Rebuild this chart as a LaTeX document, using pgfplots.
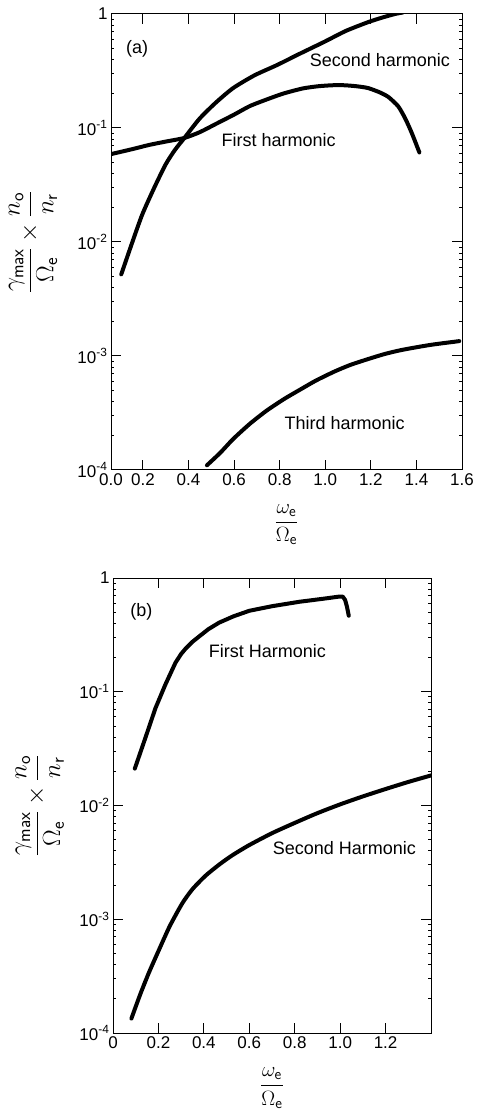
\documentclass[border=0pt]{standalone}
\usepackage{fontspec}
\setmainfont{Liberation Sans}
\usepackage{pgfplots}
\pgfplotsset{compat=1.18}
\pgfplotsset{
  every axis/.append style={
  axis line style={line width=1pt},
  major tick length=10pt, tick align=inside,
  tick label style={font=\fontsize{17}{20}\selectfont},
  cycle list={black,no markers,line width=4pt,line join=round,line cap=round\\},
  },
  every axis y label/.style={rotate=90, anchor=center},
  every axis x label/.style={anchor=center},
}
\begin{document}
\begin{tikzpicture}
\path[use as bounding box] (0pt,0pt) rectangle (478pt,1110pt);
% ---------- panel (a)
\begin{axis}[ymode=log, scale only axis, ymin=1e-4, ymax=1,
  ytick={1e-4,1e-3,1e-2,1e-1,1},
  yticklabels={10\textsuperscript{-4},10\textsuperscript{-3},10\textsuperscript{-2},10\textsuperscript{-1},1},
  minor ytick={},
  tick style={line width=1pt, black},
  at={(111pt,640pt)}, anchor=south west, width=351pt, height=456pt,
  xmin=0.06, xmax=1.6,
  xtick={0.06,0.2,0.4,0.6,0.8,1.0,1.2,1.4,1.6},
  xticklabels={0.0,0.2,0.4,0.6,0.8,1.0,1.2,1.4,1.6},
  xlabel={\fontsize{22}{26}\selectfont$\displaystyle\frac{\omega_{\mathsf{e}}}{\Omega_{\mathsf{e}}}$},
  x label style={at={(axis description cs:0.5,-0.12)}},
  ylabel={\fontsize{26}{30}\selectfont$\displaystyle\frac{\gamma_{\mathsf{max}}}{\Omega_{\mathsf{e}}}\times\frac{n_{\mathsf{o}}}{n_{\mathsf{r}}}$},
  y label style={at={(axis description cs:-0.222,0.5)}},
]
% Second harmonic
\addplot+[smooth, tension=0.4] coordinates {(0.105,0.0052) (0.15,0.0095) (0.197,0.0174) (0.25,0.030) (0.30,0.048) (0.34,0.064) (0.382,0.0818) (0.449,0.121) (0.52,0.167) (0.596,0.224) (0.69,0.29) (0.789,0.357) (0.89,0.45) (0.996,0.57) (1.09,0.71) (1.188,0.848) (1.25,0.93) (1.306,1.0) (1.34,1.03)};
% First harmonic
\addplot+[smooth, tension=0.4] coordinates {(0.06,0.059) (0.15,0.065) (0.227,0.071) (0.30,0.076) (0.382,0.0818) (0.45,0.092) (0.522,0.109) (0.60,0.131) (0.67,0.156) (0.75,0.180) (0.818,0.201) (0.90,0.222) (0.966,0.232) (1.03,0.237) (1.085,0.237) (1.14,0.232) (1.188,0.224) (1.24,0.205) (1.277,0.187) (1.32,0.155) (1.351,0.121) (1.38,0.090) (1.413,0.061)};
% Third harmonic
\addplot+[smooth, tension=0.4] coordinates {(0.481,1.1e-4) (0.54,1.42e-4) (0.596,1.87e-4) (0.67,2.55e-4) (0.744,3.33e-4) (0.82,4.2e-4) (0.892,5.1e-4) (0.96,6.1e-4) (1.04,7.3e-4) (1.11,8.35e-4) (1.188,9.4e-4) (1.26,1.04e-3) (1.336,1.13e-3) (1.46,1.25e-3) (1.588,1.35e-3)};
\node[font=\fontsize{18}{21}\selectfont] at (axis cs:0.175,0.494) {(a)};
\node[font=\fontsize{18}{21}\selectfont] at (axis cs:1.24,0.398) {Second harmonic};
\node[font=\fontsize{18}{21}\selectfont] at (axis cs:0.796,0.0789) {First harmonic};
\node[font=\fontsize{18}{21}\selectfont] at (axis cs:1.085,2.58e-4) {Third harmonic};
\end{axis}
% ---------- panel (b)
\begin{axis}[ymode=log, scale only axis, ymin=1e-4, ymax=1,
  ytick={1e-4,1e-3,1e-2,1e-1,1},
  yticklabels={10\textsuperscript{-4},10\textsuperscript{-3},10\textsuperscript{-2},10\textsuperscript{-1},1},
  minor ytick={},
  tick style={line width=1pt, black},
  at={(113pt,77pt)}, anchor=south west, width=318pt, height=455pt,
  xmin=0, xmax=1.4,
  xtick={0,0.2,0.4,0.6,0.8,1.0,1.2},
  xticklabels={0,0.2,0.4,0.6,0.8,1.0,1.2},
  xlabel={\fontsize{22}{26}\selectfont$\displaystyle\frac{\omega_{\mathsf{e}}}{\Omega_{\mathsf{e}}}$},
  x label style={at={(axis description cs:0.5,-0.121)}},
  ylabel={\fontsize{26}{30}\selectfont$\displaystyle\frac{\gamma_{\mathsf{max}}}{\Omega_{\mathsf{e}}}\times\frac{n_{\mathsf{o}}}{n_{\mathsf{r}}}$},
  y label style={at={(axis description cs:-0.23,0.5)}},
]
% First Harmonic
\addplot coordinates {(0.096,0.0211) (0.14,0.038) (0.187,0.0718) (0.23,0.115) (0.275,0.18) (0.30,0.215) (0.32,0.24) (0.35,0.275) (0.378,0.305) (0.42,0.355) (0.467,0.405) (0.53,0.46) (0.6,0.515) (0.7,0.565) (0.82,0.618) (0.92,0.655) (0.997,0.687) (1.012,0.685) (1.022,0.640) (1.03,0.56) (1.038,0.466)};
% Second Harmonic
\addplot+[smooth, tension=0.4] coordinates {(0.081,1.34e-4) (0.12,2.19e-4) (0.158,3.39e-4) (0.2,5.25e-4) (0.25,8.71e-4) (0.305,1.38e-3) (0.35,1.84e-3) (0.408,2.42e-3) (0.47,3.05e-3) (0.526,3.66e-3) (0.6,4.49e-3) (0.7,5.71e-3) (0.8,7.03e-3) (0.9,8.57e-3) (1.0,1.023e-2) (1.1,1.202e-2) (1.2,1.396e-2) (1.3,1.611e-2) (1.405,1.85e-2)};
\node[font=\fontsize{18}{21}\selectfont] at (axis cs:0.125,0.5) {(b)};
\node[font=\fontsize{18}{21}\selectfont] at (axis cs:0.68,0.23) {First Harmonic};
\node[font=\fontsize{18}{21}\selectfont] at (axis cs:1.019,4.2e-3) {Second Harmonic};
\end{axis}
\end{tikzpicture}
\end{document}
